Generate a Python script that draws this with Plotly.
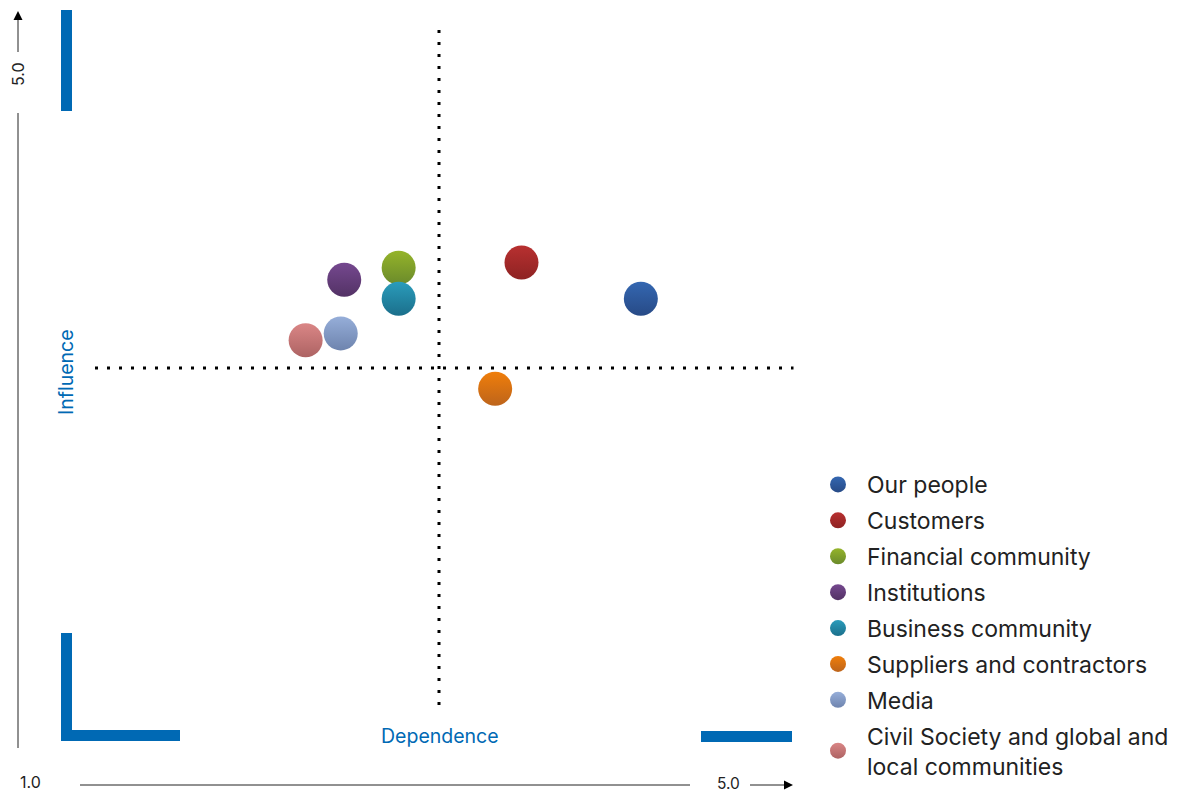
import plotly.graph_objects as go

# Stakeholder map: dependence (x) vs influence (y), scale 1.0 - 5.0
stakeholders = [
    "Our people",
    "Customers",
    "Financial community",
    "Institutions",
    "Business community",
    "Suppliers and contractors",
    "Media",
    "Civil Society and global and<br>local communities",
]
dependence = [4.15, 3.47, 2.77, 2.46, 2.77, 3.32, 2.44, 2.24]
influence = [3.40, 3.61, 3.58, 3.51, 3.40, 2.88, 3.20, 3.16]
top_colors = ["#3467b1", "#b83030", "#95b42a", "#75488f", "#2a9cbb", "#f07e0a", "#96aed9", "#da8686"]
bottom_colors = ["#274a86", "#8e2323", "#6a8a2b", "#533265", "#1b6f8b", "#bd641b", "#6e84ae", "#ad6363"]

BLUE = "#0069b4"
INK = "#222222"
FONT = "Inter"

# plot area in pixels: x 88..790, y 22..714
W, H = 1178, 793
L, R, T, B = 88, 790, 22, 714


def px(x):
    return (x - L) / (R - L)


def py(y):
    return (B - y) / (B - T)


fig = go.Figure()
for i, name in enumerate(stakeholders):
    fig.add_trace(go.Scatter(
        x=[dependence[i]], y=[influence[i]],
        mode="markers", name=name, legendgroup=name,
        marker=dict(size=34, color=top_colors[i], line=dict(width=0),
                    gradient=dict(type="vertical", color=bottom_colors[i])),
        hoverinfo="name",
    ))

shapes = [
    # quadrant dividers at the scale midpoint
    dict(type="line", xref="x", yref="paper", x0=3, x1=3, y0=py(705), y1=1,
         line=dict(color="black", width=3, dash="3px,9px")),
    dict(type="line", xref="paper", yref="y", x0=px(95), x1=1.005, y0=3, y1=3,
         line=dict(color="black", width=3, dash="3px,9px")),
    # blue frame marks
    dict(type="line", xref="paper", yref="paper", x0=px(66.5), x1=px(66.5), y0=py(10), y1=py(111),
         line=dict(color=BLUE, width=11)),
    dict(type="path", xref="paper", yref="paper",
         path=f"M {px(66.5)},{py(633)} L {px(66.5)},{py(735.5)} L {px(180)},{py(735.5)}",
         line=dict(color=BLUE, width=11)),
    dict(type="line", xref="paper", yref="paper", x0=px(701), x1=px(792), y0=py(736.5), y1=py(736.5),
         line=dict(color=BLUE, width=11)),
    # scale axes
    dict(type="line", xref="paper", yref="paper", x0=px(18), x1=px(18), y0=py(113), y1=py(748),
         line=dict(color=INK, width=1)),
    dict(type="line", xref="paper", yref="paper", x0=px(18), x1=px(18), y0=py(15), y1=py(52),
         line=dict(color=INK, width=1)),
    dict(type="line", xref="paper", yref="paper", x0=px(80), x1=px(690), y0=py(785), y1=py(785),
         line=dict(color=INK, width=1)),
    dict(type="line", xref="paper", yref="paper", x0=px(750), x1=px(788), y0=py(785), y1=py(785),
         line=dict(color=INK, width=1)),
]


def label(text, x, y, size, color, angle=0):
    return dict(text=text, xref="paper", yref="paper", x=px(x), y=py(y),
                xanchor="center", yanchor="middle", textangle=angle, showarrow=False,
                font=dict(family=FONT, size=size, color=color))


def arrowhead(x, y, ax, ay):
    return dict(text="", xref="paper", yref="paper", x=px(x), y=py(y), ax=ax, ay=ay,
                showarrow=True, arrowhead=2, arrowsize=1.8, arrowwidth=1, arrowcolor="black",
                font=dict(size=1))


annotations = [
    label("Influence", 66, 372, 19.5, BLUE, -90),
    label("Dependence", 440, 736, 19.5, BLUE),
    label("1.0", 30.5, 782, 16, INK),
    label("5.0", 728, 783.5, 15.5, INK),
    label("5.0", 18, 74, 16, INK, -90),
    # arrowheads at the top of the influence scale and the end of the dependence scale
    arrowhead(18, 11, 0, 10),
    arrowhead(793, 785, -10, 0),
]

fig.update_layout(
    width=W, height=H,
    margin=dict(l=L, r=W - R, t=T, b=H - B, autoexpand=False),
    paper_bgcolor="white", plot_bgcolor="white",
    xaxis=dict(range=[1, 5], visible=False, fixedrange=True),
    yaxis=dict(range=[1, 5], visible=False, fixedrange=True),
    shapes=shapes,
    annotations=annotations,
    showlegend=True,
    legend=dict(
        x=px(809), y=py(463), xanchor="left", yanchor="top",
        font=dict(family=FONT, size=23, color="#222222"),
        itemwidth=48, tracegroupgap=3, bgcolor="rgba(0,0,0,0)",
    ),
)

fig.write_html("out.html")
